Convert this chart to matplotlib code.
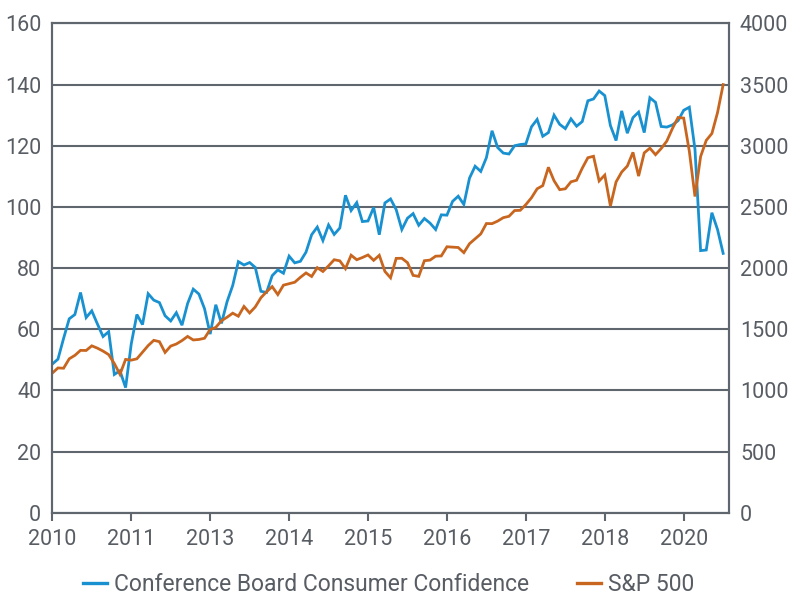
import matplotlib
matplotlib.use("Agg")
import matplotlib.pyplot as plt
from matplotlib.lines import Line2D
import pandas as pd

plt.rcParams['font.family'] = ['Roboto', 'DejaVu Sans']

# Monthly observations, Sep 2010 .. Aug 2020
months = pd.date_range("2010-09-01", periods=120, freq="MS")

confidence = [
    48.6, 50.2, 57.0, 63.4,
    64.8, 72.0, 63.8, 66.0, 61.7, 57.6, 59.2, 45.2, 46.4, 40.9, 55.2, 64.8,
    61.5, 71.6, 69.5, 68.7, 64.4, 62.7, 65.4, 61.3, 68.4, 73.1, 71.5, 66.7,
    58.4, 68.0, 61.9, 69.0, 74.3, 82.1, 81.0, 81.8, 80.2, 72.4, 72.0, 77.5,
    79.4, 78.3, 83.9, 81.7, 82.2, 85.2, 90.9, 93.4, 89.0, 94.1, 91.0, 93.1,
    103.8, 98.8, 101.4, 95.2, 95.4, 99.8, 90.9, 101.3, 102.6, 99.1, 92.6, 96.3,
    97.8, 94.0, 96.2, 94.7, 92.6, 97.4, 97.3, 101.8, 103.5, 100.8, 109.4, 113.3,
    111.6, 116.1, 124.9, 119.4, 117.6, 117.3, 120.0, 120.4, 120.6, 126.2, 128.6, 123.1,
    124.3, 130.0, 127.0, 125.6, 128.8, 126.4, 127.9, 134.7, 135.3, 137.9, 136.4, 126.6,
    121.7, 131.4, 124.1, 129.2, 131.0, 124.3, 135.7, 134.2, 126.3, 126.1, 126.8, 128.2,
    131.6, 132.6, 118.8, 85.7, 85.9, 98.1, 92.6, 84.8,
]

sp500 = [
    1141, 1183, 1181, 1258,
    1286, 1327, 1326, 1364, 1345, 1321, 1292, 1219, 1131, 1253, 1247, 1258,
    1312, 1366, 1409, 1398, 1310, 1362, 1379, 1407, 1441, 1412, 1416, 1426,
    1498, 1515, 1569, 1598, 1631, 1606, 1686, 1633, 1682, 1757, 1806, 1848,
    1783, 1860, 1872, 1884, 1924, 1960, 1931, 2003, 1972, 2018, 2068, 2059,
    1995, 2105, 2068, 2086, 2107, 2063, 2104, 1972, 1920, 2079, 2080, 2044,
    1940, 1932, 2060, 2065, 2097, 2099, 2174, 2171, 2168, 2126, 2199, 2239,
    2279, 2364, 2363, 2384, 2412, 2423, 2470, 2472, 2519, 2575, 2648, 2674,
    2824, 2714, 2641, 2648, 2705, 2718, 2816, 2902, 2914, 2712, 2760, 2507,
    2704, 2785, 2834, 2946, 2752, 2942, 2980, 2927, 2977, 3038, 3141, 3231,
    3226, 2954, 2585, 2912, 3044, 3100, 3271, 3500,
]

tick_idx = [0, 14, 28, 42, 56, 70, 84, 98, 112]
tick_labels = ["2010", "2011", "2013", "2014", "2015", "2016", "2017", "2018", "2020"]
left_ticks = [0, 20, 40, 60, 80, 100, 120, 140, 160]
right_ticks = [0, 500, 1000, 1500, 2000, 2500, 3000, 3500, 4000]

blue = "#1991d0"
orange = "#c8661f"
gray = "#60666d"
textc = "#585d64"

fig = plt.figure(figsize=(8, 6.01), dpi=100)
ax = fig.add_axes([0.0654, 0.147, 0.8456, 0.814])
ax2 = ax.twinx()

x = list(range(len(months)))
ax.plot(x, confidence, color=blue, lw=2.0, solid_joinstyle="miter")
ax2.plot(x, sp500, color=orange, lw=2.0, solid_joinstyle="miter")

ax.set_xlim(0, 120)
ax.set_ylim(0, 160)
ax2.set_ylim(0, 4000)

ax.set_yticks(left_ticks)
ax2.set_yticks(right_ticks)
ax.set_xticks(tick_idx)
ax.set_xticklabels(tick_labels)

ax.grid(axis="y", color=gray, lw=1.5)
ax.set_axisbelow(True)

for a in (ax, ax2):
    for s in a.spines.values():
        s.set_color(gray)
        s.set_linewidth(1.5)
    a.spines["top"].set_visible(True)

ax.tick_params(axis="y", length=0, pad=8, labelsize=15.5, labelcolor=textc)
ax2.tick_params(axis="y", length=0, pad=8, labelsize=15.5, labelcolor=textc)
ax.tick_params(axis="x", length=6, width=1.5, color=gray, direction="out",
               pad=6, labelsize=15.5, labelcolor=textc)

handles = [Line2D([], [], color=blue, lw=2.4), Line2D([], [], color=orange, lw=2.4)]
labels = ["Conference Board Consumer Confidence", "S&P 500"]
leg = fig.legend(handles, labels, loc="center", bbox_to_anchor=(0.4854, 0.027),
                 ncol=2, frameon=False, handlelength=1.05, handletextpad=0.3,
                 columnspacing=2.1, fontsize=16.5, borderpad=0, borderaxespad=0)
for t in leg.get_texts():
    t.set_color(textc)

fig.savefig("out.png", dpi=100)
